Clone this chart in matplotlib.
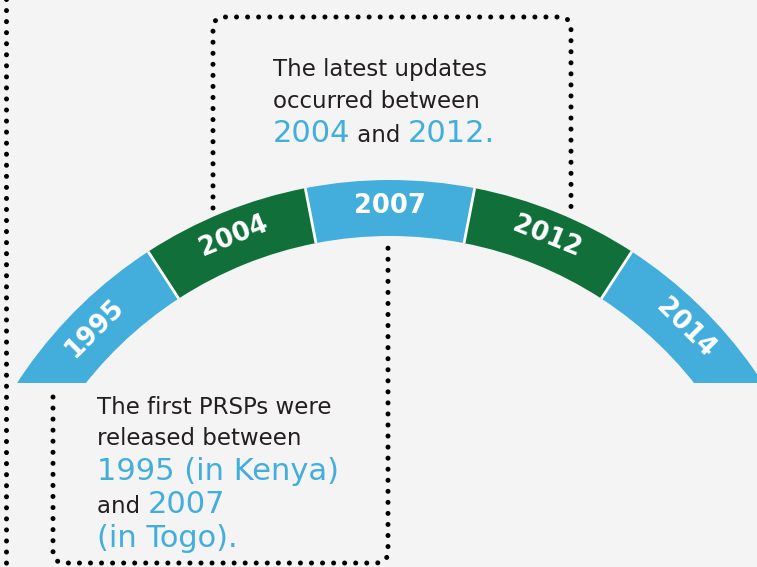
import matplotlib
matplotlib.use("Agg")
import matplotlib.pyplot as plt
from matplotlib.patches import Wedge, Rectangle
import numpy as np

### data
years = ['1995', '2004', '2007', '2012', '2014']
updated = ['2004', '2012']          # years drawn in green
span_deg = [24, 22, 22, 22, 24]     # arc width of each year segment

top_note = [
    [('The latest updates', 'txt')],
    [('occurred between', 'txt')],
    [('2004', 'num'), (' and ', 'txt'), ('2012.', 'num')],
]
bottom_note = [
    [('The first PRSPs were', 'txt')],
    [('released between', 'txt')],
    [('1995 (in Kenya)', 'num')],
    [('and ', 'txt'), ('2007', 'num')],
    [('(in Togo).', 'num')],
]

### style / layout
W, H = 757, 567
BLUE = '#43AEDB'
GREEN = '#11703A'
DARK = '#231F20'
BG = '#F4F4F4'
FONT = 'DejaVu Sans'

cx, cy = 390, 624      # arc centre (pixel coords, y down)
r_out, band = 444, 56
start_deg = 147        # left end of arc, going clockwise
cut_y = 383            # flat bottom of the arc

fig = plt.figure(figsize=(W / 100, H / 100), dpi=100)
fig.patch.set_facecolor(BG)
ax = fig.add_axes([0, 0, 1, 1])
ax.set_xlim(0, W)
ax.set_ylim(H, 0)
ax.set_facecolor(BG)
ax.axis('off')

### arc segments
clip = Rectangle((0, 0), W, cut_y, transform=ax.transData)
edges = []
ang = start_deg
for i, (yr, sp) in enumerate(zip(years, span_deg)):
    a1 = ang
    a2 = ang - sp
    lo = a2 - (20 if i == len(years) - 1 else 0)
    hi = a1 + (20 if i == 0 else 0)
    col = GREEN if yr in updated else BLUE
    w = Wedge((cx, cy), r_out, -hi, -lo, width=band, facecolor=col,
              edgecolor='none', zorder=2)
    ax.add_patch(w)
    w.set_clip_path(clip)
    mid = np.radians((a1 + a2) / 2)
    rm = r_out - band / 2 + 2
    ax.text(cx + rm * np.cos(mid), cy - rm * np.sin(mid), yr,
            rotation=(a1 + a2) / 2 - 90, ha='center', va='center',
            rotation_mode='anchor', color='white', fontsize=18.5,
            fontweight='bold', family=FONT, zorder=4)
    if i > 0:
        edges.append(a1)
    ang = a2

for e in edges:
    t = np.radians(e)
    ax.plot([cx + (r_out - band) * np.cos(t), cx + r_out * np.cos(t)],
            [cy - (r_out - band) * np.sin(t), cy - r_out * np.sin(t)],
            color='white', lw=2, zorder=3, solid_capstyle='butt')


### dotted connectors
def rounded(pts, rad=10, n=8):
    # polyline with rounded inner corners
    out = [pts[0]]
    for k in range(1, len(pts) - 1):
        p0, p1, p2 = map(np.array, (pts[k - 1], pts[k], pts[k + 1]))
        d1 = (p0 - p1) / np.linalg.norm(p0 - p1)
        d2 = (p2 - p1) / np.linalg.norm(p2 - p1)
        s, e = p1 + d1 * rad, p1 + d2 * rad
        for tt in np.linspace(0, 1, n):
            q = (1 - tt) ** 2 * s + 2 * (1 - tt) * tt * p1 + tt ** 2 * e
            out.append(tuple(q))
    out.append(pts[-1])
    return np.array(out)


dot_kw = dict(color='black', lw=3.6, linestyle=(0, (0.01, 2.2)),
              dash_capstyle='round', zorder=1)

p = rounded([(213, 208), (213, 17), (571, 17), (571, 208)], rad=12)
ax.plot(p[:, 0], p[:, 1], **dot_kw)
p = rounded([(53, 397), (53, 563), (388, 563), (388, 243)], rad=12)
ax.plot(p[:, 0], p[:, 1], **dot_kw)
ax.plot([6, 6], [-5, 572], **dot_kw)

### notes
renderer = fig.canvas.get_renderer()


def note(lines, x0, baselines):
    for parts, yb in zip(lines, baselines):
        x = x0
        for s, kind in parts:
            if kind == 'num':
                t = ax.text(x, yb, s, color=BLUE, fontsize=22, family=FONT,
                            va='baseline', ha='left', zorder=5)
            else:
                t = ax.text(x, yb, s, color=DARK, fontsize=16.5, family=FONT,
                            va='baseline', ha='left', zorder=5)
            bb = t.get_window_extent(renderer)
            x += bb.width


note(top_note, 273, [76, 108, 142])
note(bottom_note, 97, [414, 445, 480, 513, 547])

fig.savefig('out.png', dpi=100, facecolor=BG)
